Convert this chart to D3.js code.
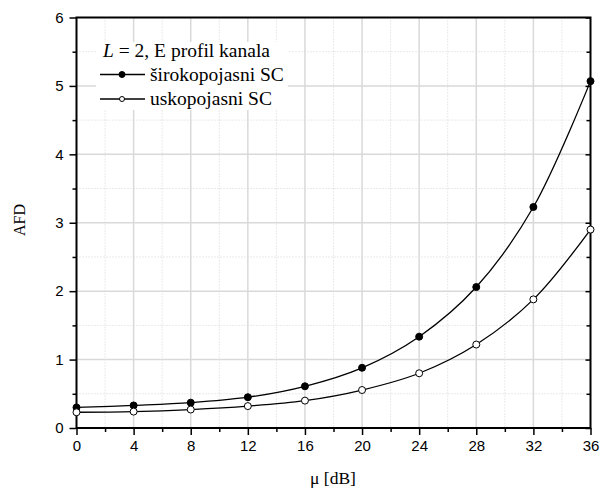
<!DOCTYPE html>
<html>
<head>
<meta charset="utf-8">
<script src="https://cdn.jsdelivr.net/npm/d3@7/dist/d3.min.js"></script>
<style>
  html, body { margin: 0; padding: 0; background: #fff; }
  svg { display: block; }
</style>
</head>
<body>
<svg id="chart" width="602" height="489"></svg>
<script>
// μ values in dB
const mu = [0, 4, 8, 12, 16, 20, 24, 28, 32, 36];
// AFD for wideband SC
const afdWide = [0.30, 0.33, 0.37, 0.45, 0.61, 0.88, 1.335, 2.06, 3.23, 5.07];
// AFD for narrowband SC
const afdNarrow = [0.23, 0.24, 0.27, 0.32, 0.40, 0.555, 0.80, 1.22, 1.88, 2.90];

const xMajor = [0, 4, 8, 12, 16, 20, 24, 28, 32, 36];
const xMinor = [2, 6, 10, 14, 18, 22, 26, 30, 34];
const yMajor = [0, 1, 2, 3, 4, 5, 6];
const yMinor = [0.5, 1.5, 2.5, 3.5, 4.5, 5.5];

const seriesNames = ["širokopojasni SC", "uskopojasni SC"];

const svg = d3.select("#chart");
const pL = 76.5, pR = 590.5, pT = 17.5, pB = 428;

const x = d3.scaleLinear().domain([0, 36]).range([pL, pR]);
const y = d3.scaleLinear().domain([0, 6]).range([pB, pT]);

// grid
const grid = svg.append("g");
grid.selectAll(".gmin-x").data(xMinor).enter().append("line")
  .attr("x1", d => x(d)).attr("x2", d => x(d)).attr("y1", pT).attr("y2", pB)
  .attr("stroke", "#d4d4d4").attr("stroke-width", 1).attr("stroke-dasharray", "1,2");
grid.selectAll(".gmin-y").data(yMinor).enter().append("line")
  .attr("x1", pL).attr("x2", pR).attr("y1", d => y(d)).attr("y2", d => y(d))
  .attr("stroke", "#d4d4d4").attr("stroke-width", 1).attr("stroke-dasharray", "1,2");
grid.selectAll(".gmaj-x").data(xMajor.slice(1, -1)).enter().append("line")
  .attr("x1", d => x(d)).attr("x2", d => x(d)).attr("y1", pT).attr("y2", pB)
  .attr("stroke", "#d9d9d9").attr("stroke-width", 1.5);
grid.selectAll(".gmaj-y").data(yMajor.slice(1, -1)).enter().append("line")
  .attr("x1", pL).attr("x2", pR).attr("y1", d => y(d)).attr("y2", d => y(d))
  .attr("stroke", "#d9d9d9").attr("stroke-width", 1.5);

// legend background
svg.append("rect").attr("x", 96).attr("y", 42).attr("width", 192).attr("height", 68)
  .attr("fill", "#fff");

// axes
const font = "'Liberation Sans', Arial, sans-serif";
const xAxis = d3.axisBottom(x).tickValues(xMajor).tickSize(7).tickPadding(5).tickFormat(d3.format("d"));
const gx = svg.append("g").attr("transform", `translate(0,${pB})`).call(xAxis);
gx.select(".domain").remove();
gx.selectAll("text").attr("font-family", font).attr("font-size", 15).attr("fill", "#000");
gx.selectAll("line").attr("stroke", "#000").attr("stroke-width", 1.5);
svg.append("g").attr("transform", `translate(0,${pB})`)
  .call(d3.axisBottom(x).tickValues(xMinor).tickSize(4).tickFormat(""))
  .call(g => g.select(".domain").remove())
  .selectAll("line").attr("stroke", "#000").attr("stroke-width", 1.5);

const yAxis = d3.axisLeft(y).tickValues(yMajor).tickSize(7).tickPadding(6).tickFormat(d3.format("d"));
const gy = svg.append("g").attr("transform", `translate(${pL},0)`).call(yAxis);
gy.select(".domain").remove();
gy.selectAll("text").attr("font-family", font).attr("font-size", 15).attr("fill", "#000");
gy.selectAll("line").attr("stroke", "#000").attr("stroke-width", 1.5);
svg.append("g").attr("transform", `translate(${pL},0)`)
  .call(d3.axisLeft(y).tickValues(yMinor).tickSize(4).tickFormat(""))
  .call(g => g.select(".domain").remove())
  .selectAll("line").attr("stroke", "#000").attr("stroke-width", 1.5);

// right axis ticks point inward
svg.append("g").attr("transform", `translate(${pR},0)`)
  .call(d3.axisRight(y).tickValues(yMajor).tickSize(-5).tickFormat(""))
  .call(g => g.select(".domain").remove())
  .selectAll("line").attr("stroke", "#000").attr("stroke-width", 1.5);
svg.append("g").attr("transform", `translate(${pR},0)`)
  .call(d3.axisRight(y).tickValues(yMinor).tickSize(-4).tickFormat(""))
  .call(g => g.select(".domain").remove())
  .selectAll("line").attr("stroke", "#000").attr("stroke-width", 1.5);

// frame
svg.append("rect").attr("x", pL).attr("y", pT).attr("width", pR - pL).attr("height", pB - pT)
  .attr("fill", "none").attr("stroke", "#000").attr("stroke-width", 2);

// curves
const line = d3.line().x((d, i) => x(mu[i])).y(d => y(d)).curve(d3.curveCatmullRom.alpha(0.5));
[afdWide, afdNarrow].forEach((vals, k) => {
  svg.append("path").datum(vals).attr("d", line)
    .attr("fill", "none").attr("stroke", "#000").attr("stroke-width", 1.3);
  svg.selectAll(null).data(vals).enter().append("circle")
    .attr("cx", (d, i) => x(mu[i])).attr("cy", d => y(d)).attr("r", 3.5)
    .attr("fill", k === 0 ? "#000" : "#fff").attr("stroke", "#000").attr("stroke-width", 1);
});

// legend
const serif = "'Liberation Serif', 'Times New Roman', serif";
const lt = svg.append("text").attr("x", 103).attr("y", 57)
  .attr("font-family", serif).attr("font-size", 19.5).attr("fill", "#000");
lt.append("tspan").attr("font-style", "italic").text("L");
lt.append("tspan").text(" = 2, E profil kanala");

seriesNames.forEach((name, k) => {
  const cy = 74.5 + k * 24.5;
  svg.append("line").attr("x1", 100).attr("x2", 145).attr("y1", cy).attr("y2", cy)
    .attr("stroke", "#000").attr("stroke-width", 1.3);
  svg.append("circle").attr("cx", 122).attr("cy", cy).attr("r", k === 0 ? 3 : 2.5)
    .attr("fill", k === 0 ? "#000" : "#fff").attr("stroke", "#000").attr("stroke-width", 1);
  svg.append("text").attr("x", 150).attr("y", cy + 6)
    .attr("font-family", serif).attr("font-size", 19.5).attr("fill", "#000").text(name);
});

// axis titles
svg.append("text").attr("transform", "translate(25,220) rotate(-90)")
  .attr("text-anchor", "middle").attr("font-family", serif).attr("font-size", 16)
  .attr("fill", "#000").text("AFD");
svg.append("text").attr("x", 333).attr("y", 484).attr("text-anchor", "middle")
  .attr("font-family", serif).attr("font-size", 17.5).attr("fill", "#000").text("μ [dB]");
</script>
</body>
</html>
